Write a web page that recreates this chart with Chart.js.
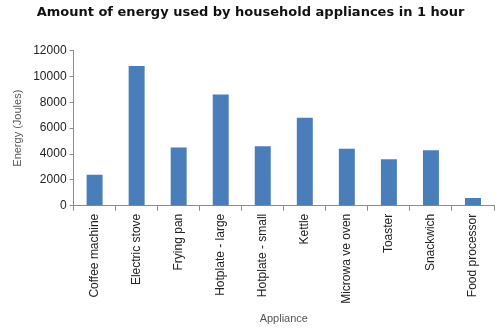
<!DOCTYPE html>
<html>
<head>
<meta charset="utf-8">
<script src="https://cdn.jsdelivr.net/npm/chart.js@4"></script>
<style>
  html, body { margin: 0; padding: 0; background: #fff; }
  #wrap { width: 500px; height: 330px; position: relative; }
</style>
</head>
<body>
<div id="wrap"><canvas id="myChart"></canvas></div>
<script>
const appliances = ["Coffee machine", "Electric stove", "Frying pan", "Hotplate - large", "Hotplate - small",
  "Kettle", "Microwa ve oven", "Toaster", "Snackwich", "Food processor"];
const energy = [2400, 10800, 4500, 8600, 4600, 6800, 4400, 3600, 4300, 600];

const axisGrey = "#8c8c8c";

const config = {
  type: "bar",
  data: {
    labels: appliances,
    datasets: [{
      data: energy,
      backgroundColor: "#4a7ebb",
      categoryPercentage: 1,
      barPercentage: 0.38,
    }],
  },
  options: {
    responsive: true,
    maintainAspectRatio: false,
    animation: false,
    layout: { padding: { left: 7, right: 6, top: 0, bottom: 0 } },
    plugins: {
      legend: { display: false },
      tooltip: { enabled: false },
      title: {
        display: true,
        text: "Amount of energy used by household appliances in 1 hour",
        color: "#111",
        font: { family: "'DejaVu Sans', sans-serif", size: 13, weight: "bold" },
        padding: { top: 5, bottom: 30 },
      },
    },
    scales: {
      x: {
        grid: { display: true, drawOnChartArea: false, color: axisGrey, tickLength: 5 },
        border: { color: axisGrey },
        ticks: {
          color: "#222",
          font: { family: "'Liberation Sans', sans-serif", size: 12 },
          minRotation: 90,
          maxRotation: 90,
          autoSkip: false,
        },
        title: {
          display: true,
          text: "Appliance",
          color: "#555",
          font: { family: "'Liberation Sans', sans-serif", size: 11 },
          padding: { top: 6 },
        },
      },
      y: {
        min: 0,
        max: 12000,
        grid: { display: true, drawOnChartArea: false, color: axisGrey, tickLength: 4 },
        border: { color: axisGrey },
        ticks: {
          stepSize: 2000,
          color: "#222",
          font: { family: "'Liberation Sans', sans-serif", size: 12 },
          padding: 3,
          callback: (val) => String(val),
        },
        title: {
          display: true,
          text: "Energy (Joules)",
          color: "#555",
          font: { family: "'Liberation Sans', sans-serif", size: 11 },
          padding: { bottom: 6 },
        },
      },
    },
  },
};

new Chart(document.getElementById("myChart").getContext("2d"), config);
</script>
</body>
</html>
